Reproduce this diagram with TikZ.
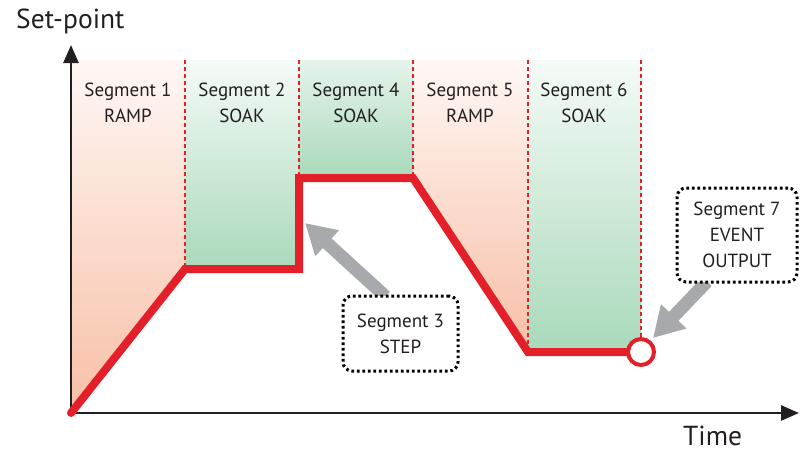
\documentclass[tikz,border=0pt]{standalone}
\usepackage{fontspec}
\setmainfont{PT Sans}
\usetikzlibrary{arrows.meta,calc}
\pgfdeclarelayer{front}
\pgfsetlayers{main,front}
\definecolor{redline}{HTML}{E3202A}
\definecolor{salmon}{HTML}{F8BFA6}
\definecolor{mint}{HTML}{A9D9BA}
\definecolor{arrowgray}{HTML}{A7A9AC}
\definecolor{axiscol}{HTML}{231F20}
\begin{document}
\begin{tikzpicture}[x=1pt,y=-1pt,
  seglabel/.style={align=center, font=\fontsize{19}{26}\selectfont, text=axiscol},
  axistitle/.style={font=\fontsize{27.5}{30}\selectfont, text=axiscol, inner sep=0pt},
  callout/.style={draw=black, fill=white, line width=3pt, dash pattern=on 2.6pt off 2.9pt,
    rounded corners=9pt, align=center, font=\fontsize{19}{26}\selectfont, text=axiscol},
  segdash/.style={draw=redline, line width=1.1pt, dash pattern=on 4pt off 3pt},
  profile/.style={draw=redline, line width=8pt, line cap=round, line join=miter},
  axisline/.style={draw=axiscol, line width=2.6pt, -{Triangle[length=18pt,width=15pt]}},
  grayarrow/.style={draw=arrowgray, line width=13pt, -{Triangle[length=30pt,width=33pt]}}]
\useasboundingbox (0,0) rectangle (800,472);

% key coordinates of the profile
\coordinate (O) at (71,413);
\coordinate (A) at (185,269);
\coordinate (B) at (299,269);
\coordinate (C) at (299,178);
\coordinate (D) at (413,178);
\coordinate (E) at (528,352);
\coordinate (F) at (641,352);
\coordinate (t1) at (185,60);
\coordinate (t2) at (299,60);
\coordinate (t4) at (413,60);
\coordinate (t5) at (528,60);
\coordinate (t6) at (641,60);
\coordinate (t0) at (71,60);

% shaded regions
\fill[top color=salmon!12, bottom color=salmon] (t0) -- (t1) -- (A) -- (O) -- cycle;
\fill[top color=mint!12, bottom color=mint] (t1) -- (t2) -- (B) -- (A) -- cycle;
\fill[top color=mint!30, bottom color=mint] (t2) -- (t4) -- (D) -- (C) -- cycle;
\fill[top color=salmon!12, bottom color=salmon] (t4) -- (t5) -- (E) -- (D) -- cycle;
\fill[top color=mint!12, bottom color=mint] (t5) -- (t6) -- (F) -- (E) -- cycle;

% dashed segment borders
\draw[segdash] (t1) -- (A);
\draw[segdash] (t2) -- (C);
\draw[segdash] (t4) -- (D);
\draw[segdash] (t5) -- (E);
\draw[segdash] (t6) -- (F);

% segment labels
\node[seglabel] (l1) at (128,103) {Segment 1\\RAMP};
\node[seglabel] (l2) at (242,103) {Segment 2\\SOAK};
\node[seglabel] (l4) at (356,103) {Segment 4\\SOAK};
\node[seglabel] (l5) at (470,103) {Segment 5\\RAMP};
\node[seglabel] (l6) at (584,103) {Segment 6\\SOAK};

% axes
\coordinate (ytip) at (71,45);
\coordinate (xtip) at (799,413);
\draw[axisline] (O) -- (ytip);
\draw[axisline] (O) -- (xtip);
\node[axistitle, anchor=base west] (yl) at (16,28.5) {Set-point};
\node[axistitle, anchor=base west] (xl) at (683,445) {Time};

% callout boxes (on the front layer, over the arrow tails)
\begin{pgfonlayer}{front}
\node[callout, minimum width=115pt, minimum height=75pt] (s3) at (400.5,333.5) {Segment 3\\STEP};
\node[callout, minimum width=120pt, minimum height=94pt] (s7) at (737,235) {Segment 7\\EVENT\\OUTPUT};
\end{pgfonlayer}

% gray pointer arrows
\coordinate (p3) at (305,223);
\coordinate (p7) at (653,338);
\draw[grayarrow] ($(s3.north)+(-15,2)$) -- (p3);
\draw[grayarrow] ($(s7.south)+(-30,-2)$) -- (p7);

% set-point profile
\draw[profile] (O) -- (A) -- (B) -- (C) -- (D) -- (E) -- (F);
\node[circle, draw=redline, fill=white, line width=4pt, minimum size=26pt, inner sep=0pt] (ev) at (F) {};
\end{tikzpicture}
\end{document}
